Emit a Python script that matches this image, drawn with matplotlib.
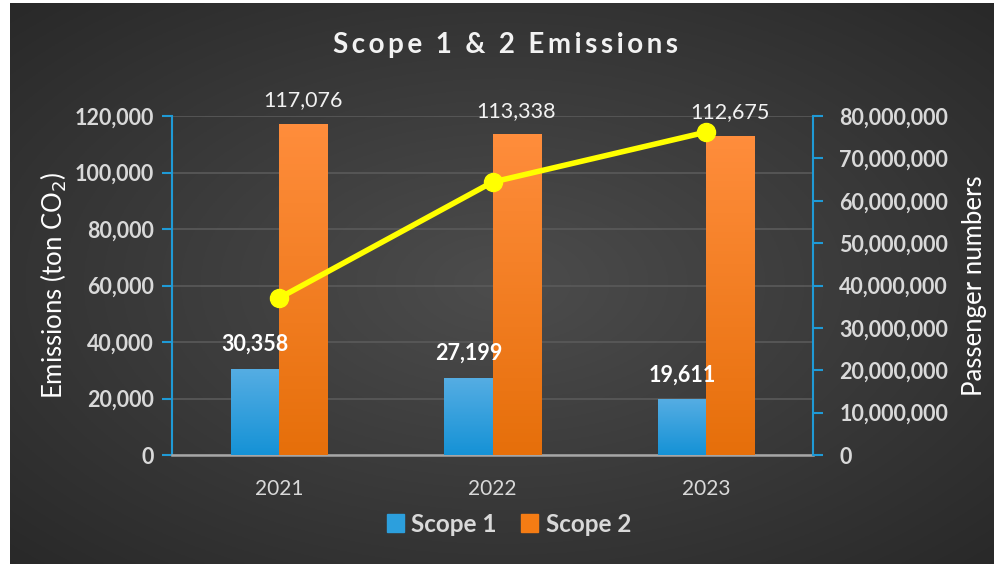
import numpy as np
import matplotlib
matplotlib.use("Agg")
import matplotlib.pyplot as plt
from matplotlib.patches import Patch

# data
years = ["2021", "2022", "2023"]
scope1 = [30358, 27199, 19611]
scope2 = [117076, 113338, 112675]
passengers = [37000000, 64400000, 76200000]

plt.rcParams['font.family'] = ['Lato', 'DejaVu Sans']
txt = '#D9D9D9'
blue_spine = '#1F9AD6'

fig = plt.figure(figsize=(9.95, 5.64), dpi=100)
fig.patch.set_facecolor('white')

# background panel with radial gradient
bg = fig.add_axes([10/995, 0, 1 - 10/995, 1 - 3/564])
yy, xx = np.mgrid[-1:1:300j, -1:1:500j]
r = np.sqrt(xx**2 + yy**2) / np.sqrt(2)
grad = 0.30 - 0.14 * r
bg.imshow(np.dstack([grad, grad, grad]), aspect='auto', extent=[0, 1, 0, 1])
bg.set_axis_off()

ax = fig.add_axes([172/995, 1 - 455/564, (813 - 172)/995, (455 - 116)/564])
ax.patch.set_alpha(0)
x = np.arange(len(years))
w = 0.225

b1 = ax.bar(x - w/2, scope1, w, color='#2C9FDD', zorder=3)
b2 = ax.bar(x + w/2, scope2, w, color='#F57C14', zorder=3)

# vertical gradient inside bars
def grad_fill(bars, top, bottom):
    g = np.linspace(0, 1, 100)[:, None]
    top = np.array(matplotlib.colors.to_rgb(top))
    bottom = np.array(matplotlib.colors.to_rgb(bottom))
    img = (1 - g)[:, :, None] * top + g[:, :, None] * bottom
    for b in bars:
        bx, by = b.get_x(), b.get_y()
        bw, bh = b.get_width(), b.get_height()
        b.set_facecolor('none')
        b.set_edgecolor('none')
        ax.imshow(img, aspect='auto', extent=[bx, bx + bw, by, by + bh], zorder=3)

grad_fill(b1, '#55ADE3', '#1592D6')
grad_fill(b2, '#FF8D3C', '#E66F0A')

ax.set_xlim(-0.5, 2.5)
ax.set_ylim(0, 120000)
ax.set_yticks(np.arange(0, 120001, 20000))
ax.yaxis.set_major_formatter(matplotlib.ticker.FuncFormatter(lambda v, p: f"{int(v):,}"))
ax.grid(axis='y', color='#5A5A5A', linewidth=1.2, zorder=0)
ax.set_xticks(x)
ax.set_xticklabels(years)
ax.tick_params(axis='x', length=0, colors=txt, labelsize=15, pad=17)
ax.tick_params(axis='y', colors=blue_spine, labelcolor=txt, labelsize=15.5, length=7, width=1.5, pad=6)
for lab in ax.get_yticklabels():
    lab.set_fontweight('bold')
ax.spines['top'].set_visible(False)
ax.spines['right'].set_visible(False)
ax.spines['left'].set_color(blue_spine)
ax.spines['left'].set_linewidth(1.5)
ax.spines['bottom'].set_color('#A6A6A6')
ax.spines['bottom'].set_linewidth(1.8)
ax.set_ylabel("Emissions (ton CO$_2$)", color='white', fontsize=18.5, labelpad=4)

for b, v in zip(b1, scope1):
    ax.text(b.get_x() + b.get_width()/2, v + 5000, f"{v:,}", ha='center', va='bottom',
            color='white', fontsize=15.5, fontweight='bold', zorder=5)
for b, v in zip(b2, scope2):
    ax.text(b.get_x() + b.get_width()/2, v + 5000, f"{v:,}", ha='center', va='bottom',
            color='#F2F2F2', fontsize=15.5, zorder=5, clip_on=False)

ax2 = ax.twinx()
ax2.set_ylim(0, 80000000)
ax2.set_yticks(np.arange(0, 80000001, 10000000))
ax2.yaxis.set_major_formatter(matplotlib.ticker.FuncFormatter(lambda v, p: f"{int(v):,}"))
ax2.plot(x, passengers, color='#FFFF00', linewidth=4, marker='o', markersize=13, zorder=6)
ax2.tick_params(axis='y', colors=blue_spine, labelcolor=txt, labelsize=15.5, length=7, width=1.5, pad=12)
for lab in ax2.get_yticklabels():
    lab.set_fontweight('bold')
for s in ['top', 'left', 'bottom']:
    ax2.spines[s].set_visible(False)
ax2.spines['right'].set_color(blue_spine)
ax2.spines['right'].set_linewidth(1.5)
ax2.set_ylabel("Passenger numbers", color='white', fontsize=18.5, labelpad=10)

title = "\u2009".join("Scope 1 & 2 Emissions").replace("\u2009 \u2009", "  ")
fig.text(506/995, 1 - 45/564, title, ha='center', va='center',
         color='#F2F2F2', fontsize=20, fontweight='bold')

handles = [Patch(color='#2C9FDD', label='Scope 1'), Patch(color='#F57C14', label='Scope 2')]
leg = fig.legend(handles=handles, loc='center', bbox_to_anchor=(509/995, 1 - 524/564), ncol=2,
                 frameon=False, handlelength=0.7, handleheight=0.7, columnspacing=1.0,
                 handletextpad=0.3, prop={'size': 17.5, 'weight': 'bold'})
for t in leg.get_texts():
    t.set_color(txt)

fig.savefig("out.png", dpi=100, facecolor=fig.get_facecolor())
